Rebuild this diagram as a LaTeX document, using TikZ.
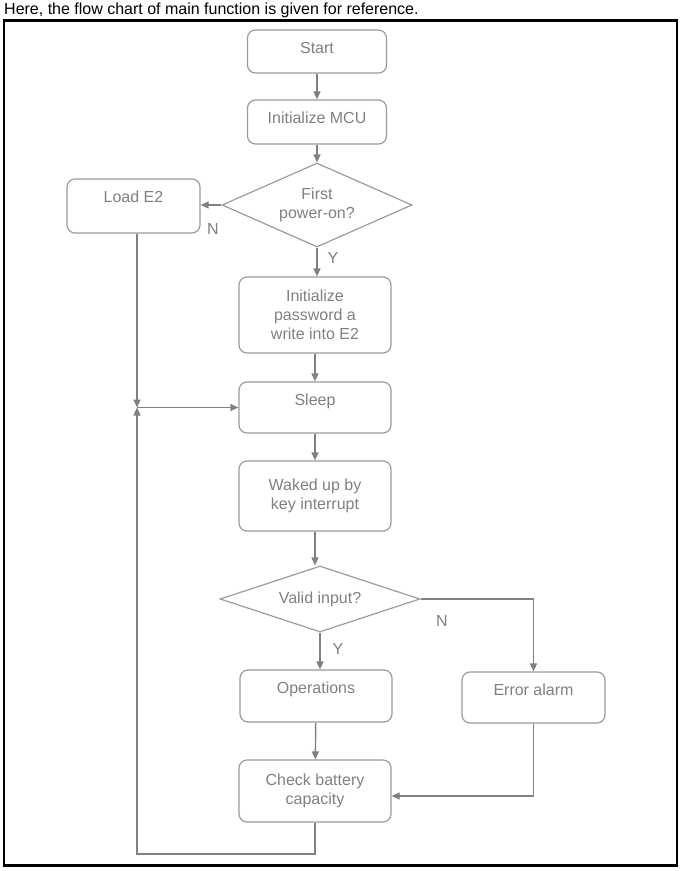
\documentclass[tikz,border=0pt]{standalone}
\usepackage{fontspec}
\setmainfont{Liberation Sans}
\usetikzlibrary{shapes.geometric,arrows.meta}
\definecolor{lineGray}{RGB}{128,128,128}
\definecolor{boxGray}{RGB}{155,155,155}
\definecolor{textGray}{RGB}{128,128,128}

\begin{document}
\begin{tikzpicture}
        [x=1pt, y=-1pt,
        box/.style={rectangle, rounded corners=8pt, draw=boxGray, line width=1.2pt, text=textGray, align=center, font=\fontsize{16pt}{19pt}\selectfont, minimum width=152pt},
        textTop/.style={text height=12pt, text depth=#1},
        decision/.style={diamond, draw=boxGray, line width=1.2pt, text=textGray, align=center, font=\fontsize{16pt}{19pt}\selectfont, inner sep=0pt},
        line/.style={draw=lineGray, line width=1.4pt, -{Triangle[length=8pt,width=7pt]}},
        tag/.style={text=textGray, font=\fontsize{16pt}{19pt}\selectfont}]
        \useasboundingbox (0,0) rectangle (681,871);
        \node[anchor=west, inner sep=0pt, font=\fontsize{16pt}{19pt}\selectfont] (title) at (4,10) {Here, the flow chart of main function is given for reference.};
        \draw[line width=2.5pt] (4,20.5) rectangle (677,865.5);

        \node[box, minimum width=139pt, minimum height=43pt, textTop=7.6pt] (start) at (317,51.5) {Start};
        \node[box, minimum width=139pt, minimum height=44pt, textTop=8.6pt] (mcu) at (317,122) {Initialize MCU};
        \node[decision, aspect=2.26, minimum width=190pt, minimum height=84pt] (first) at (317,205) {First\\power-on?};
        \node[box, minimum width=133pt, minimum height=54pt, textTop=18.6pt] (load) at (133.5,206) {Load E2};
        \node[box, minimum height=76pt] (pwd) at (315,315) {Initialize\\password a\\write into E2};
        \node[box, minimum height=51pt, textTop=15.6pt] (sleep) at (315,407.5) {Sleep};
        \node[box, minimum height=70pt] (wake) at (315,496) {Waked up by\\key interrupt};
        \node[decision, aspect=3, minimum width=200pt, minimum height=66pt] (valid) at (320,599) {Valid input?};
        \node[box, minimum height=52pt, textTop=16.6pt] (ops) at (316,696) {Operations};
        \node[box, minimum width=143pt, minimum height=51pt, textTop=15.6pt] (err) at (533.5,697.5) {Error alarm};
        \node[box, minimum height=62pt] (check) at (315,791) {Check battery\\capacity};

        \node[tag] (n1) at (213,229) {N};
        \node[tag] (y1) at (333,258) {Y};
        \node[tag] (n2) at (442,621) {N};
        \node[tag] (y2) at (338,649) {Y};

        \coordinate (join) at (137,407.5);
        \coordinate (loop) at (137,854);

        \draw[line] (start) -- (mcu);
        \draw[line] (mcu) -- (first);
        \draw[line] (first.west) -- (first.west -| load.east);
        \draw[line] (first.south) -- (first.south |- pwd.north);
        \draw[line] (pwd) -- (sleep);
        \draw[line] (sleep) -- (wake);
        \draw[line] (wake.south) -- (wake.south |- valid.north);
        \draw[line] (valid.south) -- (valid.south |- ops.north);
        \draw[line] (valid.east) -| (err.north);
        \draw[line] (ops) -- (check);
        \draw[line] (err.south) |- ([yshift=-5pt]check.east);
        \draw[line] (join |- load.south) -- (join);
        \draw[line] (check.south) |- (loop) -- (join);
        \draw[line] (join) -- (sleep.west);
    \end{tikzpicture}
\end{document}
